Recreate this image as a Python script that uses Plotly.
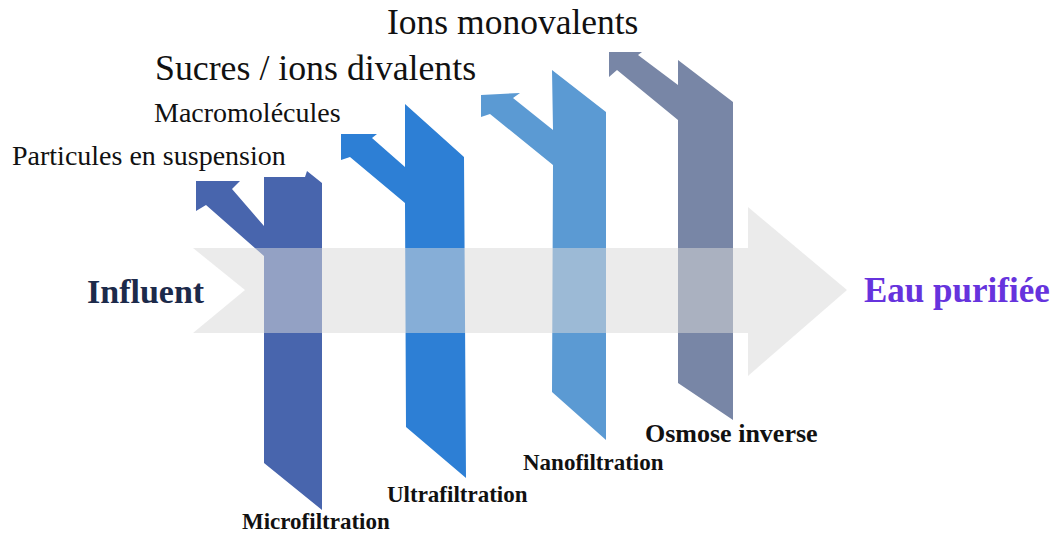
import plotly.graph_objects as go

# ---- Diagram geometry (pixel-space coordinates, y downward) ----
stage_names = ["Microfiltration", "Ultrafiltration", "Nanofiltration", "Osmose inverse"]
retained = ["Particules en suspension", "Macromolécules", "Sucres / ions divalents", "Ions monovalents"]
stage_colors = ["#4865AD", "#2D7FD5", "#5B9AD3", "#7886A6"]

micro_x = [264, 305, 307, 322, 322, 264, 264, 206, 196, 196, 240, 232, 264]
micro_y = [177, 177, 171, 183, 510, 463, 256, 205, 211, 181, 181, 189, 226]

ultra_x = [405, 464, 466, 406, 405, 350, 341, 341, 377, 372, 405]
ultra_y = [104, 157, 478, 427, 203, 157, 160, 134, 134, 138, 167]

nano_x = [552, 606, 606, 552, 553, 490, 481, 481, 520, 513, 553]
nano_y = [70, 112, 440, 392, 165, 114, 117, 95, 93, 98, 130]

osmo_x = [678, 733, 733, 678, 678, 617, 609, 609, 642, 638, 678]
osmo_y = [60, 102, 420, 383, 120, 70, 77, 52, 52, 55, 85]

strips_x = [micro_x, ultra_x, nano_x, osmo_x]
strips_y = [micro_y, ultra_y, nano_y, osmo_y]

flow_x = [193, 748, 748, 847, 748, 748, 193, 245, 193]
flow_y = [248, 248, 207, 290, 376, 333, 333, 290, 248]

retained_x = [10, 152, 153, 385]
retained_y = [155, 112, 68, 22]
retained_size = [28, 28, 35.8, 35.5]

stage_x = [240, 385, 521, 643]
stage_y = [521, 494, 462, 433]
stage_size = [23, 23, 23, 26]

fig = go.Figure()

for xs, ys, col in zip(strips_x, strips_y, stage_colors):
    fig.add_trace(go.Scatter(x=xs + [xs[0]], y=ys + [ys[0]], mode="lines", fill="toself",
                             fillcolor=col, line=dict(width=0, color=col),
                             hoverinfo="skip", showlegend=False))

fig.add_trace(go.Scatter(x=flow_x, y=flow_y, mode="lines", fill="toself",
                         fillcolor="rgba(216,216,216,0.52)", line=dict(width=0),
                         hoverinfo="skip", showlegend=False))

serif = "Liberation Serif, Times New Roman, serif"
ann = []
for t, x, y, s in zip(retained, retained_x, retained_y, retained_size):
    ann.append(dict(x=x, y=y, text=t, xref="x", yref="y", xanchor="left", yanchor="middle",
                    showarrow=False, font=dict(family=serif, size=s, color="#111111")))
for t, x, y, s in zip(stage_names, stage_x, stage_y, stage_size):
    ann.append(dict(x=x, y=y, text="<b>" + t + "</b>", xref="x", yref="y", xanchor="left",
                    yanchor="middle", showarrow=False, font=dict(family=serif, size=s, color="#111111")))
ann.append(dict(x=85, y=291, text="<b>Influent</b>", xref="x", yref="y", xanchor="left",
                yanchor="middle", showarrow=False, font=dict(family=serif, size=34, color="#1C2A4A")))
ann.append(dict(x=862, y=290, text="<b>Eau purifiée</b>", xref="x", yref="y", xanchor="left",
                yanchor="middle", showarrow=False, font=dict(family=serif, size=35, color="#6633DD")))

fig.update_layout(
    width=1056, height=533, margin=dict(l=0, r=0, t=0, b=0),
    paper_bgcolor="white", plot_bgcolor="white", annotations=ann,
    xaxis=dict(range=[0, 1056], visible=False, fixedrange=True),
    yaxis=dict(range=[533, 0], visible=False, fixedrange=True),
)

fig.write_html("out.html", config={"displayModeBar": False},
               post_script="document.body.style.margin='0';document.body.style.overflow='hidden';")
